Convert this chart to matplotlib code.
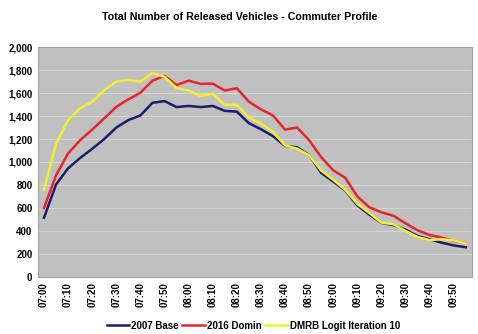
import matplotlib
matplotlib.use("Agg")
import matplotlib.pyplot as plt

# Horarios de 5 em 5 minutos, 07:00 a 09:55
times = ["%02d:%02d" % (7 + m // 60, m % 60) for m in range(0, 180, 5)]

base_2007 = [515, 805, 945, 1035, 1115, 1200, 1300, 1365, 1405, 1515,
             1530, 1478, 1488, 1478, 1488, 1445, 1438, 1338, 1285, 1225,
             1140, 1128, 1060, 905, 830, 752, 622, 542, 470, 450,
             412, 356, 327, 298, 274, 258]
domin_2016 = [600, 885, 1075, 1190, 1282, 1380, 1480, 1545, 1603, 1708,
              1750, 1670, 1708, 1680, 1682, 1622, 1642, 1525, 1458, 1405,
              1282, 1300, 1190, 1042, 928, 862, 700, 606, 562, 532,
              466, 406, 364, 342, 314, 292]
dmrb_logit = [760, 1160, 1365, 1468, 1524, 1626, 1700, 1714, 1700, 1775,
              1742, 1642, 1622, 1575, 1592, 1497, 1497, 1388, 1335, 1262,
              1145, 1116, 1058, 926, 846, 758, 636, 556, 472, 458,
              400, 347, 320, 328, 318, 290]

plt.rcParams["font.family"] = ["Liberation Sans", "DejaVu Sans"]

fig = plt.figure(figsize=(4.78, 3.34), dpi=100)
ax = fig.add_axes([0.0795, 0.171, 0.9075, 0.688])
ax.set_facecolor("#c0c0c0")

x = range(len(times))
ax.plot(x, base_2007, color="#1c1c6c", lw=1.8, label="2007 Base")
ax.plot(x, domin_2016, color="#e8242a", lw=1.8, label="2016 Domin")
ax.plot(x, dmrb_logit, color="#f2ee30", lw=1.8, label="DMRB Logit Iteration 10")

ax.set_xlim(-0.5, len(times) - 0.5)
ax.set_ylim(0, 2000)
ax.set_yticks(range(0, 2001, 200))
ax.set_yticklabels(["{:,}".format(v) for v in range(0, 2001, 200)],
                   fontsize=7, fontweight="bold")
ax.set_xticks(list(x)[::2])
ax.set_xticklabels(times[::2], rotation=90, fontsize=7, fontweight="bold")
ax.tick_params(length=0, pad=4)
ax.grid(axis="y", color="#d4d4d4", lw=0.8)
ax.set_axisbelow(True)
for s in ax.spines.values():
    s.set_color("#a0a0a0")

fig.suptitle("Total Number of Released Vehicles - Commuter Profile",
             fontsize=7.7, fontweight="bold", x=0.502, y=0.965)

leg = fig.legend(loc="center", bbox_to_anchor=(0.53, 0.025), ncol=3,
                 frameon=False, fontsize=7, handlelength=2.3,
                 handletextpad=0.2, columnspacing=0.4)
for t in leg.get_texts():
    t.set_fontweight("bold")

fig.savefig("out.png", dpi=100)
